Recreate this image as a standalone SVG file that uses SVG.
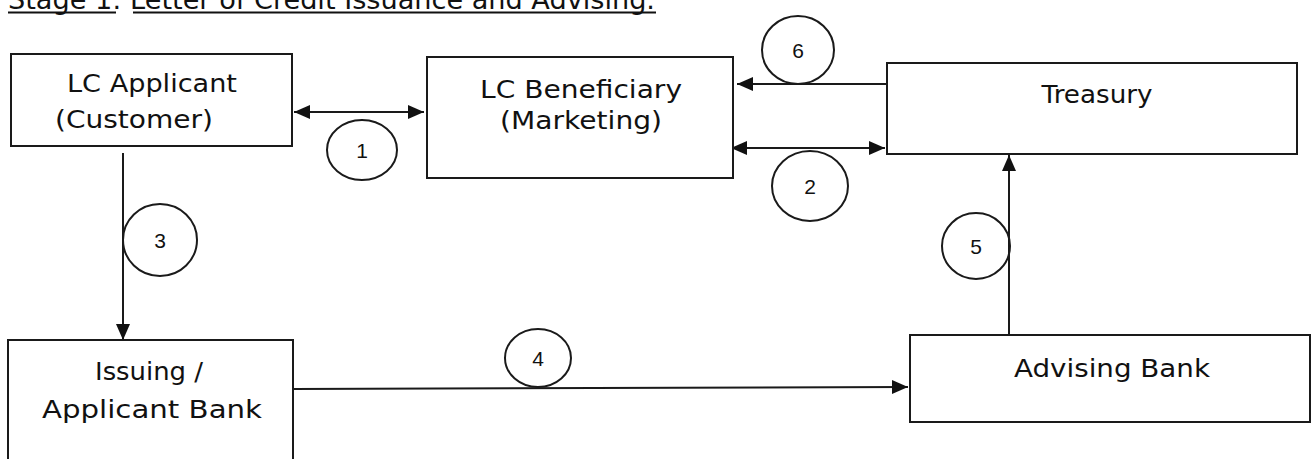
<svg xmlns="http://www.w3.org/2000/svg" width="1312" height="459" viewBox="0 0 1312 459">
<style>
.box{fill:#fff;stroke:#1a1a1a;stroke-width:2}
.lbl{font-family:"DejaVu Sans","Liberation Sans",sans-serif;font-size:24px;fill:#111;text-anchor:middle}
.num{font-family:"Liberation Sans","DejaVu Sans",sans-serif;font-size:21px;fill:#111;text-anchor:middle}
.circ{fill:none;stroke:#1a1a1a;stroke-width:2}
.conn{stroke:#1a1a1a;stroke-width:2;fill:none}
.title{font-family:"DejaVu Sans","Liberation Sans",sans-serif;font-size:26px;fill:#111}
</style>
<defs>
<marker id="ah" markerUnits="userSpaceOnUse" markerWidth="17" markerHeight="15" refX="16" refY="7" orient="auto-start-reverse">
<path d="M0,0 L16,7 L0,14 z" fill="#111"/>
</marker>
</defs>
<rect width="1312" height="459" fill="#fff"/>
<g id="title">
<text class="title" x="8" y="9" textLength="647" lengthAdjust="spacingAndGlyphs">Stage 1: Letter of Credit Issuance and Advising.</text>
<line x1="8" y1="12.5" x2="116" y2="12.5" stroke="#111" stroke-width="2"/>
<line x1="133" y1="12.5" x2="656" y2="12.5" stroke="#111" stroke-width="2"/>
</g>
<g id="connectors">
<line class="conn" x1="294" y1="112" x2="424" y2="112" marker-start="url(#ah)" marker-end="url(#ah)"/>
<line class="conn" x1="887" y1="84" x2="737" y2="84" marker-end="url(#ah)"/>
<line class="conn" x1="731" y1="148" x2="885" y2="148" marker-start="url(#ah)" marker-end="url(#ah)"/>
<line class="conn" x1="123" y1="153" x2="123" y2="340" marker-end="url(#ah)"/>
<line class="conn" x1="293" y1="389" x2="908" y2="387" marker-end="url(#ah)"/>
<line class="conn" x1="1009" y1="335" x2="1009" y2="155" marker-end="url(#ah)"/>
<g id="step-labels">
<ellipse class="circ" cx="362" cy="150" rx="35" ry="30"/><text class="num" x="362" y="158">1</text>
<ellipse class="circ" cx="810" cy="186" rx="38" ry="35"/><text class="num" x="810" y="194">2</text>
<ellipse class="circ" cx="160" cy="240" rx="37" ry="36"/><text class="num" x="160" y="248">3</text>
<ellipse class="circ" cx="538" cy="358" rx="33" ry="29"/><text class="num" x="538" y="366">4</text>
<ellipse class="circ" cx="976" cy="246" rx="34" ry="33"/><text class="num" x="976" y="254">5</text>
<ellipse class="circ" cx="798" cy="50" rx="36" ry="34"/><text class="num" x="798" y="58">6</text>
</g>
</g>
<g id="lc-applicant">
<rect class="box" x="11" y="54" width="281" height="92"/>
<text class="lbl" x="152" y="92" textLength="170" lengthAdjust="spacingAndGlyphs">LC Applicant</text>
<text class="lbl" x="134" y="128" textLength="158" lengthAdjust="spacingAndGlyphs">(Customer)</text>
</g>
<g id="lc-beneficiary">
<rect class="box" x="427" y="57" width="306" height="121"/>
<text class="lbl" x="581" y="98" textLength="202" lengthAdjust="spacingAndGlyphs">LC Beneficiary</text>
<text class="lbl" x="581" y="129" textLength="162" lengthAdjust="spacingAndGlyphs">(Marketing)</text>
</g>
<g id="treasury">
<rect class="box" x="887" y="63" width="410" height="91"/>
<text class="lbl" x="1097" y="103" textLength="111" lengthAdjust="spacingAndGlyphs">Treasury</text>
</g>
<g id="issuing-bank">
<rect class="box" x="8" y="340" width="285" height="130"/>
<text class="lbl" x="149" y="380" textLength="108" lengthAdjust="spacingAndGlyphs">Issuing /</text>
<text class="lbl" x="152" y="418" textLength="220" lengthAdjust="spacingAndGlyphs">Applicant Bank</text>
</g>
<g id="advising-bank">
<rect class="box" x="910" y="335" width="400" height="87"/>
<text class="lbl" x="1112" y="377" textLength="196" lengthAdjust="spacingAndGlyphs">Advising Bank</text>
</g>
</svg>
